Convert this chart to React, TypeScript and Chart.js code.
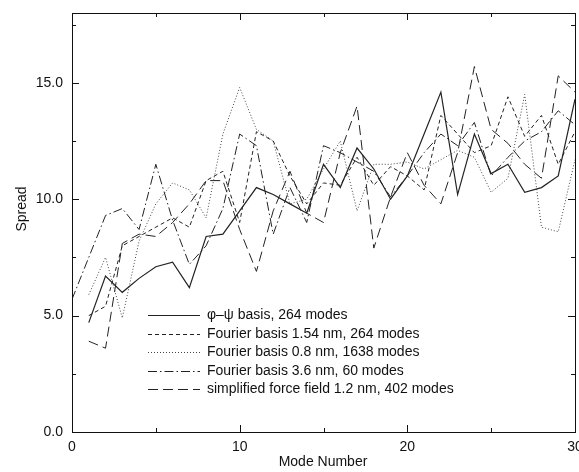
import React, { useEffect, useRef } from "react";
import { Chart, registerables } from "chart.js";

Chart.register(...registerables);

const modeNumbers = [1, 2, 3, 4, 5, 6, 7, 8, 9, 10, 11, 12, 13, 14, 15, 16, 17, 18, 19, 20, 21, 22, 23, 24, 25, 26, 27, 28, 29, 30];
const modeNumbersFrom0 = [0, ...modeNumbers];

const phiPsiSpread = [4.7, 6.7, 6.0, 6.6, 7.1, 7.3, 6.2, 8.4, 8.5, 9.5, 10.5, 10.2, 9.8, 9.4, 11.5, 10.5, 12.2, 11.3, 10.0, 11.0, 12.8, 14.6, 10.2, 12.8, 11.1, 11.5, 10.3, 10.5, 11.0, 14.3];
const fourier154Spread = [5.0, 5.4, 8.0, 8.4, 8.8, 9.2, 8.8, 10.8, 11.2, 9.0, 12.9, 12.5, 11.0, 9.8, 10.7, 10.6, 11.8, 10.6, 11.4, 11.0, 10.4, 13.6, 12.8, 12.0, 12.3, 14.4, 12.7, 13.6, 11.5, 12.9];
const fourier08Spread = [5.9, 7.5, 4.9, 8.2, 9.8, 10.7, 10.4, 9.2, 12.8, 14.8, 13.0, 12.5, 9.8, 10.0, 11.3, 12.5, 9.5, 11.5, 11.5, 11.6, 11.3, 11.7, 12.1, 11.8, 10.3, 10.9, 14.5, 8.8, 8.6, 11.7];
const fourier36Spread = [5.7, 7.5, 9.3, 9.6, 8.7, 11.5, 9.1, 7.2, 8.0, 9.6, 12.8, 12.3, 8.5, 10.5, 9.0, 12.3, 12.0, 11.6, 11.2, 10.1, 11.0, 12.0, 12.8, 12.3, 13.3, 11.0, 11.8, 12.5, 12.9, 13.8, 13.2];
const forceFieldSpread = [3.9, 3.6, 8.1, 8.5, 8.4, 9.0, 9.8, 10.8, 10.8, 8.7, 6.9, 9.5, 11.2, 9.4, 9.0, 12.0, 14.0, 7.9, 10.1, 12.0, 10.6, 9.8, 12.0, 15.7, 13.0, 12.4, 11.5, 10.9, 15.3, 14.6];

const seriesLabels = [
  "\u03c6\u2013\u03c8 basis, 264 modes",
  "Fourier basis 1.54 nm, 264 modes",
  "Fourier basis 0.8 nm, 1638 modes",
  "Fourier basis 3.6 nm, 60 modes",
  "simplified force field 1.2 nm, 402 modes",
];

const yTickValues = [0, 5, 10, 15];
const yMinorTicks = [2.5, 7.5, 12.5, 17.5];
const xTickValues = [0, 10, 20, 30];
const xMinorTicks = [5, 15, 25];

const FONT = "'Liberation Sans', Arial, Helvetica, sans-serif";

const pts = (xs: number[], ys: number[]) => ys.map((y, i) => ({ x: xs[i], y }));

const framePlugin = {
  id: "frameAndLegend",
  afterDraw(chart: any) {
    const { ctx, chartArea } = chart;
    const xs = chart.scales.x;
    const ys = chart.scales.y;
    const { left, right, top, bottom } = chartArea;
    ctx.save();
    ctx.strokeStyle = "#111";
    ctx.lineWidth = 1;
    ctx.setLineDash([]);
    ctx.strokeRect(left + 0.5, top + 0.5, right - left, bottom - top);
    ctx.beginPath();
    const drawX = (v: number, len: number) => {
      const px = Math.round(xs.getPixelForValue(v)) + 0.5;
      ctx.moveTo(px, bottom);
      ctx.lineTo(px, bottom - len);
      ctx.moveTo(px, top);
      ctx.lineTo(px, top + len);
    };
    const drawY = (v: number, len: number) => {
      const py = Math.round(ys.getPixelForValue(v)) + 0.5;
      ctx.moveTo(left, py);
      ctx.lineTo(left + len, py);
      ctx.moveTo(right, py);
      ctx.lineTo(right - len, py);
    };
    xTickValues.forEach((v) => drawX(v, 7));
    xMinorTicks.forEach((v) => drawX(v, 4));
    yTickValues.forEach((v) => drawY(v, 7));
    yMinorTicks.forEach((v) => drawY(v, 4));
    ctx.stroke();

    // axis titles
    ctx.fillStyle = "#111";
    ctx.font = `14px ${FONT}`;
    ctx.textAlign = "center";
    ctx.textBaseline = "middle";
    ctx.fillText("Mode Number", 323, 462);
    ctx.save();
    ctx.translate(22, 209);
    ctx.rotate(-Math.PI / 2);
    ctx.fillText("Spread", 0, 0);
    ctx.restore();

    // legend
    const lx0 = left + 76;
    const lx1 = left + 128;
    const tx = left + 135;
    const row0 = 315;
    const rowH = 18.6;
    ctx.font = `14px ${FONT}`;
    ctx.textAlign = "left";
    chart.data.datasets.forEach((ds: any, i: number) => {
      const y = Math.round(row0 + i * rowH) + 0.5;
      ctx.beginPath();
      ctx.strokeStyle = ds.borderColor;
      ctx.lineWidth = ds.borderWidth;
      ctx.setLineDash(ds.borderDash || []);
      ctx.moveTo(lx0, y);
      ctx.lineTo(lx1, y);
      ctx.stroke();
      ctx.setLineDash([]);
      ctx.fillStyle = "#111";
      ctx.fillText(ds.label, tx, y);
    });
    ctx.restore();
  },
};

export default function App() {
  const canvasRef = useRef<HTMLCanvasElement | null>(null);

  useEffect(() => {
    const canvas = canvasRef.current;
    if (!canvas) return;
    const common = { fill: false, pointRadius: 0, tension: 0, borderColor: "#222" };
    const chart = new Chart(canvas, {
      type: "line",
      data: {
        datasets: [
          { ...common, label: seriesLabels[0], data: pts(modeNumbers, phiPsiSpread), borderWidth: 1.2, borderDash: [] },
          { ...common, label: seriesLabels[1], data: pts(modeNumbers, fourier154Spread), borderWidth: 1, borderDash: [4, 3] },
          { ...common, label: seriesLabels[2], data: pts(modeNumbers, fourier08Spread), borderWidth: 1, borderDash: [1, 2], borderColor: "#444" },
          { ...common, label: seriesLabels[3], data: pts(modeNumbersFrom0, fourier36Spread), borderWidth: 1, borderDash: [9, 3, 1.5, 3] },
          { ...common, label: seriesLabels[4], data: pts(modeNumbers, forceFieldSpread), borderWidth: 1, borderDash: [10, 5] },
        ] as any,
      },
      options: {
        responsive: false,
        animation: false,
        layout: { padding: { left: 0, right: 4, top: 13, bottom: 0 } },
        plugins: { legend: { display: false }, tooltip: { enabled: false } },
        scales: {
          x: {
            type: "linear",
            min: 0,
            max: 30,
            grid: { display: false, drawTicks: false },
            border: { display: false },
            afterBuildTicks: (s: any) => {
              s.ticks = xTickValues.map((v) => ({ value: v }));
            },
            afterFit: (s: any) => {
              s.height = 40;
              s.paddingLeft = 0;
              s.paddingRight = 0;
            },
            ticks: {
              padding: 7,
              color: "#111",
              font: { family: FONT, size: 14 },
              maxRotation: 0,
              callback: (v: any) => String(v),
            },
          },
          y: {
            type: "linear",
            min: 0,
            max: 18,
            grid: { display: false, drawTicks: false },
            border: { display: false },
            afterBuildTicks: (s: any) => {
              s.ticks = yTickValues.map((v) => ({ value: v }));
            },
            afterFit: (s: any) => {
              s.width = 72;
              s.paddingTop = 0;
              s.paddingBottom = 0;
            },
            ticks: {
              padding: 9,
              color: "#111",
              font: { family: FONT, size: 14 },
              callback: (v: any) => Number(v).toFixed(1),
            },
          },
        },
      } as any,
      plugins: [framePlugin],
    });
    return () => chart.destroy();
  }, []);

  return (
    <div style={{ position: "fixed", left: 0, top: 0, width: 579, height: 472, background: "#fff" }}>
      <canvas ref={canvasRef} width={579} height={472} />
    </div>
  );
}
